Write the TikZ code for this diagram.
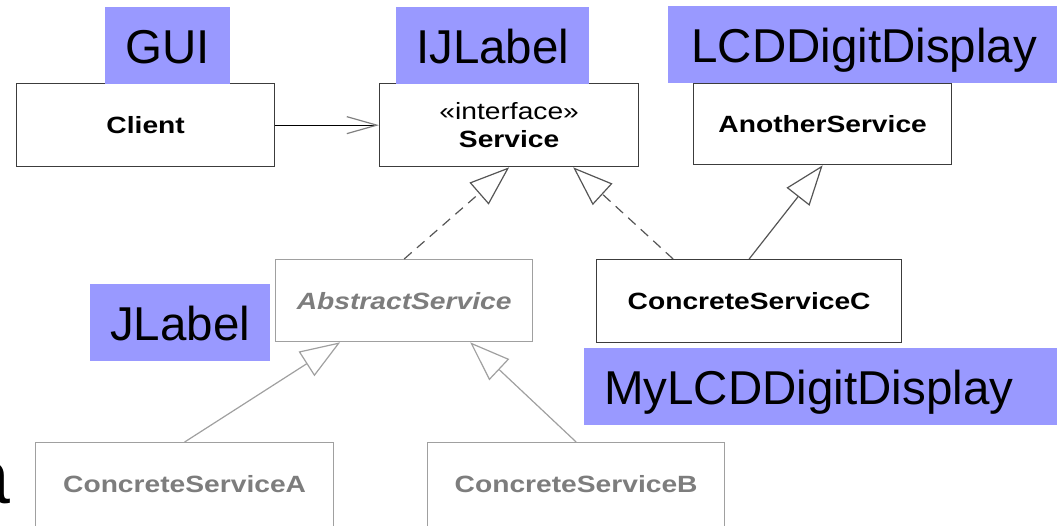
\documentclass[tikz,border=0pt]{standalone}
\usepackage{fontspec}
\setmainfont{Liberation Sans}
\newfontfamily\classfont[FakeStretch=1.2]{Liberation Sans}
\usetikzlibrary{arrows.meta}
\definecolor{tagblue}{RGB}{153,153,255}
\definecolor{edgedark}{RGB}{60,60,60}
\definecolor{tipdark}{RGB}{85,85,85}
\definecolor{fadegray}{RGB}{125,125,125}
\definecolor{fadeline}{RGB}{160,160,160}
\tikzset{
  classbox/.style={rectangle, draw=edgedark, line width=1.3pt, fill=white,
    anchor=north west, inner sep=0pt, minimum height=83pt,
    font=\classfont\bfseries\fontsize{23.5}{28}\selectfont},
  fadedbox/.style={classbox, draw=fadeline, text=fadegray},
  tag/.style={fill=tagblue, anchor=base west, inner xsep=20pt, inner ysep=0pt,
    text height=56pt, text depth=21pt, font=\fontsize{47.5}{50}\selectfont},
  assoc/.style={line width=1.2pt, draw=black,
    -{Straight Barb[length=30pt, width=17pt, color=gray]}},
  realize/.style={line width=1.2pt, draw=tipdark, dash pattern=on 10pt off 7pt,
    -{Triangle[open, length=40pt, width=29pt]}},
  inherit/.style={line width=1.2pt, draw=tipdark,
    -{Triangle[open, length=40pt, width=29pt]}},
  inheritfade/.style={line width=1.2pt, draw=fadeline,
    -{Triangle[open, length=40pt, width=29pt]}}
}
\begin{document}
\begin{tikzpicture}[x=1pt, y=-1pt]
\useasboundingbox (0,0) rectangle (1057,525);

% class boxes
\node[classbox, minimum width=258pt] (client) at (16,83) {Client};
\node[classbox, minimum width=259pt, align=center] (svc) at (379,83)
  {\mdseries«interface»\\\bfseries Service};
\node[classbox, minimum width=258pt, minimum height=81pt] (another) at (693,83) {AnotherService};
\node[fadedbox, minimum width=257pt, minimum height=82pt,
  font=\classfont\bfseries\itshape\fontsize{23.5}{28}\selectfont] (abstract) at (275,259) {AbstractService};
\node[classbox, minimum width=305pt] (cscC) at (596,259) {ConcreteServiceC};
\node[fadedbox, minimum width=298pt, minimum height=90pt, text depth=7pt] (cscA) at (35,442) {ConcreteServiceA};
\node[fadedbox, minimum width=297pt, minimum height=90pt, text depth=7pt] (cscB) at (427,442) {ConcreteServiceB};

% connectors
\draw[assoc] (client.east) -- (svc.west);
\draw[realize] (abstract.north) -- (svc.south);
\draw[realize] ([xshift=-76pt]cscC.north) -- ([xshift=64pt]svc.south);
\draw[inherit] (cscC.north) -- (another.south);
\draw[inheritfade] (cscA.north) -- ([xshift=-64pt]abstract.south);
\draw[inheritfade] (cscB.north) -- ([xshift=66pt]abstract.south);

% overlaid Swing names
\node[tag] (gui) at (105,63) {GUI};
\node[tag] (ijl) at (396,63) {IJLabel};
\node[tag, minimum width=392pt] (lcd) at (668,62) {LCDDigitDisplay};
\node[tag] (jl) at (90,340) {JLabel};
\node[tag, text width=435pt, align=left] (mylcd) at (584,404) {MyLCDDigitDisplay};

% letter cut by the left edge
\node[anchor=base east, inner sep=0pt, font=\fontsize{77}{80}\selectfont] (edgeletter) at (10.5,503) {a};
\end{tikzpicture}
\end{document}
